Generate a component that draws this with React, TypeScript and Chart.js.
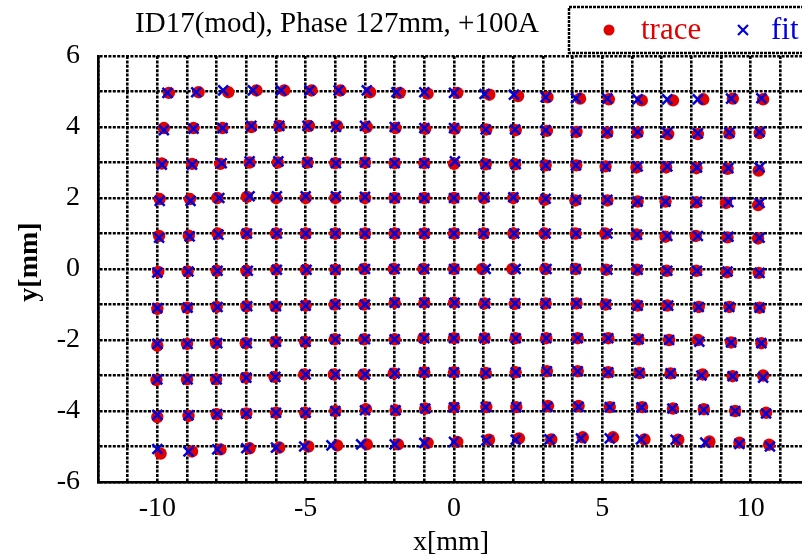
import React, { useEffect, useRef } from 'react';
import { Chart, registerables } from 'chart.js';

Chart.register(...registerables);

// Grid rows from y≈5 (top) to y≈-5 (bottom), columns from x≈-10 to x≈10
const traceX: number[][] = [
  [-9.61, -8.61, -7.61, -6.66, -5.72, -4.80, -3.83, -2.83, -1.83, -0.89, 0.11, 1.19, 2.16, 3.15, 4.25, 5.22, 6.33, 7.38, 8.40, 9.40, 10.42],
  [-9.78, -8.78, -7.80, -6.83, -5.89, -4.89, -3.94, -2.94, -1.97, -0.97, 0.03, 1.09, 2.08, 3.13, 4.13, 5.17, 6.19, 7.22, 8.22, 9.28, 10.30],
  [-9.85, -8.83, -7.88, -6.89, -5.94, -4.94, -4.00, -3.00, -2.00, -1.00, 0.00, 1.07, 2.06, 3.09, 4.12, 5.11, 6.15, 7.15, 8.17, 9.22, 10.27],
  [-9.92, -8.90, -7.98, -6.98, -6.00, -5.00, -4.00, -3.00, -2.00, -1.00, 0.00, 1.00, 2.00, 3.05, 4.09, 5.17, 6.19, 7.13, 8.17, 9.17, 10.25],
  [-9.94, -8.94, -7.97, -7.00, -6.00, -5.00, -4.00, -3.00, -2.00, -1.00, 0.00, 1.00, 2.00, 3.05, 4.10, 5.10, 6.15, 7.13, 8.15, 9.22, 10.25],
  [-9.97, -8.98, -8.00, -7.00, -6.00, -5.00, -4.00, -3.03, -2.03, -1.03, 0.00, 0.95, 1.97, 3.08, 4.10, 5.13, 6.17, 7.17, 8.17, 9.20, 10.27],
  [-10.00, -9.00, -8.00, -7.00, -6.02, -5.00, -4.02, -3.03, -2.00, -1.00, 0.00, 1.03, 2.05, 3.09, 4.13, 5.11, 6.19, 7.19, 8.25, 9.28, 10.30],
  [-10.00, -9.00, -8.02, -7.02, -6.02, -5.02, -4.02, -3.03, -2.00, -1.03, 0.00, 1.03, 2.08, 3.11, 4.17, 5.20, 6.22, 7.25, 8.22, 9.34, 10.36],
  [-10.03, -9.00, -8.02, -7.02, -6.05, -5.05, -4.05, -3.05, -2.03, -1.00, 0.00, 1.07, 2.08, 3.13, 4.17, 5.20, 6.25, 7.30, 8.38, 9.39, 10.42],
  [-10.00, -8.95, -8.00, -7.00, -6.00, -5.02, -4.00, -2.97, -1.97, -0.97, 0.00, 1.09, 2.10, 3.17, 4.20, 5.25, 6.34, 7.38, 8.42, 9.48, 10.52],
  [-9.89, -8.83, -7.87, -6.89, -5.89, -4.91, -3.94, -2.94, -1.89, -0.89, 0.11, 1.18, 2.19, 3.28, 4.34, 5.36, 6.42, 7.56, 8.61, 9.62, 10.62],
];

const traceY: number[][] = [
  [4.96, 4.98, 4.98, 5.03, 5.03, 5.03, 5.03, 4.98, 4.96, 4.94, 4.96, 4.91, 4.87, 4.84, 4.80, 4.78, 4.75, 4.75, 4.78, 4.80, 4.78],
  [3.97, 3.97, 3.97, 4.00, 4.03, 4.03, 4.03, 4.00, 3.97, 3.95, 3.95, 3.93, 3.91, 3.89, 3.86, 3.84, 3.84, 3.80, 3.80, 3.82, 3.83],
  [2.97, 2.96, 2.96, 3.00, 3.00, 3.00, 2.98, 3.00, 2.98, 2.98, 2.96, 2.95, 2.95, 2.92, 2.92, 2.89, 2.86, 2.86, 2.84, 2.82, 2.77],
  [1.97, 1.97, 2.00, 2.03, 2.00, 2.00, 2.00, 2.00, 2.00, 2.00, 2.00, 2.00, 2.00, 1.95, 1.93, 1.93, 1.90, 1.90, 1.88, 1.86, 1.80],
  [0.93, 0.94, 1.00, 1.00, 1.00, 1.00, 1.00, 1.00, 1.00, 1.00, 1.00, 1.00, 1.00, 1.00, 1.00, 1.00, 0.97, 0.91, 0.93, 0.89, 0.86],
  [-0.08, -0.07, -0.05, -0.05, -0.02, -0.02, -0.02, 0.00, 0.00, 0.00, 0.00, 0.00, 0.00, 0.00, 0.00, -0.02, -0.02, -0.05, -0.05, -0.09, -0.11],
  [-1.12, -1.09, -1.07, -1.05, -1.05, -1.03, -1.00, -1.00, -0.95, -0.95, -0.95, -0.97, -0.98, -0.97, -0.97, -1.00, -1.03, -1.03, -1.07, -1.07, -1.09],
  [-2.16, -2.11, -2.09, -2.09, -2.05, -2.05, -1.98, -1.98, -1.98, -1.95, -1.95, -1.95, -1.95, -1.95, -1.95, -1.95, -1.98, -2.00, -2.00, -2.07, -2.09],
  [-3.13, -3.11, -3.11, -3.06, -3.04, -2.97, -2.97, -2.97, -2.94, -2.91, -2.91, -2.93, -2.91, -2.88, -2.88, -2.91, -2.93, -2.94, -2.97, -3.02, -3.00],
  [-4.17, -4.14, -4.09, -4.07, -4.05, -4.05, -4.00, -3.95, -3.98, -3.93, -3.90, -3.89, -3.89, -3.86, -3.86, -3.89, -3.89, -3.93, -3.95, -4.00, -4.05],
  [-5.20, -5.14, -5.08, -5.05, -5.03, -5.00, -4.97, -4.94, -4.94, -4.90, -4.87, -4.81, -4.77, -4.80, -4.74, -4.74, -4.80, -4.81, -4.86, -4.89, -4.95],
];

const fitX: number[][] = [
  [-9.66, -8.69, -7.78, -6.78, -5.83, -4.87, -3.89, -2.94, -1.94, -1.00, 0.00, 1.03, 2.02, 3.09, 4.11, 5.17, 6.19, 7.19, 8.22, 9.34, 10.36],
  [-9.78, -8.78, -7.80, -6.83, -5.89, -4.94, -3.98, -3.00, -2.00, -1.00, 0.00, 1.07, 2.06, 3.09, 4.11, 5.17, 6.19, 7.19, 8.22, 9.28, 10.30],
  [-9.85, -8.83, -7.83, -6.89, -5.92, -4.94, -3.98, -3.00, -2.00, -1.00, 0.03, 1.07, 2.08, 3.09, 4.11, 5.11, 6.19, 7.19, 8.19, 9.25, 10.30],
  [-9.92, -8.88, -7.91, -6.89, -5.97, -5.00, -3.98, -3.00, -2.00, -1.00, 0.00, 1.03, 2.00, 3.09, 4.11, 5.17, 6.19, 7.13, 8.19, 9.25, 10.30],
  [-9.94, -8.91, -7.94, -6.98, -5.97, -5.00, -4.00, -3.00, -2.00, -1.00, 0.00, 1.00, 2.03, 3.09, 4.11, 5.17, 6.17, 7.19, 8.22, 9.25, 10.30],
  [-10.00, -8.95, -7.97, -6.95, -5.97, -4.97, -4.00, -3.00, -2.00, -1.00, 0.00, 1.07, 2.08, 3.12, 4.10, 5.17, 6.19, 7.19, 8.19, 9.22, 10.30],
  [-10.00, -8.98, -7.97, -6.97, -6.00, -5.00, -4.00, -3.00, -2.00, -1.00, 0.02, 1.05, 2.06, 3.09, 4.13, 5.13, 6.19, 7.22, 8.25, 9.28, 10.30],
  [-10.00, -8.98, -7.98, -6.98, -6.00, -5.00, -4.00, -3.00, -2.00, -1.00, 0.00, 1.03, 2.08, 3.11, 4.17, 5.20, 6.22, 7.25, 8.27, 9.34, 10.36],
  [-10.00, -8.98, -8.00, -7.00, -6.02, -5.00, -4.00, -3.00, -2.00, -1.00, 0.00, 1.07, 2.08, 3.13, 4.17, 5.20, 6.25, 7.30, 8.34, 9.39, 10.42],
  [-10.00, -8.95, -7.98, -7.00, -6.00, -5.00, -4.00, -3.00, -1.97, -0.97, 0.00, 1.07, 2.10, 3.15, 4.20, 5.25, 6.32, 7.36, 8.42, 9.48, 10.52],
  [-10.00, -8.95, -7.98, -7.00, -6.00, -5.05, -4.13, -3.13, -2.00, -1.00, 0.00, 1.09, 2.08, 3.22, 4.28, 5.25, 6.30, 7.47, 8.47, 9.62, 10.65],
];

const fitY: number[][] = [
  [4.96, 4.98, 5.03, 5.03, 5.03, 5.03, 5.03, 5.03, 4.98, 4.98, 4.96, 4.93, 4.91, 4.84, 4.81, 4.80, 4.78, 4.78, 4.78, 4.80, 4.81],
  [3.91, 3.95, 3.97, 4.03, 4.03, 4.03, 4.00, 4.03, 4.00, 3.97, 3.97, 3.93, 3.93, 3.91, 3.88, 3.86, 3.86, 3.84, 3.82, 3.84, 3.86],
  [2.94, 2.94, 2.98, 3.03, 3.03, 3.00, 2.98, 3.00, 2.98, 2.98, 3.03, 2.95, 2.95, 2.92, 2.92, 2.89, 2.89, 2.89, 2.86, 2.84, 2.86],
  [1.92, 1.92, 2.00, 2.05, 2.05, 2.05, 2.05, 2.03, 2.00, 2.00, 2.00, 2.02, 2.02, 1.98, 1.95, 1.95, 1.90, 1.90, 1.90, 1.88, 1.86],
  [0.88, 0.92, 0.97, 1.00, 1.00, 1.00, 1.00, 1.00, 1.00, 1.00, 1.00, 1.00, 1.00, 1.00, 1.00, 1.00, 0.97, 0.93, 0.93, 0.91, 0.88],
  [-0.10, -0.07, -0.05, -0.05, -0.02, -0.02, -0.02, 0.00, 0.00, 0.00, 0.00, 0.00, 0.00, 0.00, 0.00, -0.02, -0.02, -0.05, -0.05, -0.07, -0.11],
  [-1.10, -1.09, -1.07, -1.05, -1.05, -1.03, -1.00, -1.00, -0.95, -0.95, -0.95, -0.97, -0.97, -0.97, -0.97, -1.00, -1.03, -1.03, -1.07, -1.07, -1.09],
  [-2.11, -2.11, -2.09, -2.09, -2.05, -2.05, -1.98, -1.98, -1.98, -1.95, -1.95, -1.95, -1.95, -1.95, -1.95, -1.95, -1.98, -2.00, -2.05, -2.07, -2.09],
  [-3.11, -3.11, -3.11, -3.06, -3.04, -2.97, -2.97, -2.97, -2.94, -2.91, -2.91, -2.93, -2.91, -2.88, -2.88, -2.91, -2.93, -2.94, -3.00, -3.02, -3.06],
  [-4.11, -4.12, -4.09, -4.07, -4.05, -4.05, -4.00, -3.98, -3.98, -3.93, -3.90, -3.89, -3.89, -3.88, -3.88, -3.89, -3.90, -3.93, -3.97, -4.00, -4.07],
  [-5.07, -5.14, -5.08, -5.05, -5.03, -5.00, -4.97, -4.94, -4.94, -4.90, -4.87, -4.83, -4.81, -4.80, -4.77, -4.77, -4.80, -4.81, -4.89, -4.93, -5.00],
];

const xRange = [-12, 12];
const yRange = [-6, 6];
const xLabelEvery = 5;
const yLabelEvery = 2;
const titleText = 'ID17(mod), Phase 127mm, +100A';
const xTitle = 'x[mm]';
const yTitle = 'y[mm]';
const seriesNames = ['trace', 'fit'];

const RED = '#e10000';
const BLUE = '#0000dd';
const SERIF = '"Liberation Serif", "Times New Roman", serif';

function toPoints(xs: number[][], ys: number[][]) {
  const pts: { x: number; y: number }[] = [];
  xs.forEach((row, i) => row.forEach((x, j) => pts.push({ x, y: ys[i][j] })));
  return pts;
}

const decorPlugin = {
  id: 'decor',
  afterDraw(chart: any) {
    const ctx = chart.ctx as CanvasRenderingContext2D;
    const area = chart.chartArea;
    ctx.save();
    // title
    ctx.fillStyle = '#000';
    ctx.font = `29px ${SERIF}`;
    ctx.textAlign = 'center';
    ctx.textBaseline = 'middle';
    ctx.fillText(titleText, 337, 24);
    // x title
    ctx.font = `28px ${SERIF}`;
    ctx.fillText(xTitle, (area.left + area.right) / 2 - 3, 543);
    // y title
    ctx.save();
    ctx.translate(30, 262);
    ctx.rotate(-Math.PI / 2);
    ctx.font = `bold 28px ${SERIF}`;
    ctx.fillText(yTitle, 0, 0);
    ctx.restore();
    // legend box
    ctx.fillStyle = '#fff';
    ctx.fillRect(569, 7, 300, 46);
    ctx.setLineDash([3, 1]);
    ctx.lineWidth = 2.5;
    ctx.strokeStyle = '#000';
    ctx.strokeRect(569, 7, 300, 46);
    ctx.setLineDash([]);
    // trace marker
    ctx.fillStyle = RED;
    ctx.beginPath();
    ctx.arc(609, 30, 5.5, 0, Math.PI * 2);
    ctx.fill();
    ctx.textAlign = 'left';
    ctx.font = `31px ${SERIF}`;
    ctx.fillText(seriesNames[0], 641, 31);
    // fit marker
    ctx.strokeStyle = BLUE;
    ctx.lineWidth = 2.2;
    ctx.beginPath();
    ctx.moveTo(738, 25); ctx.lineTo(748, 35);
    ctx.moveTo(748, 25); ctx.lineTo(738, 35);
    ctx.stroke();
    ctx.fillStyle = BLUE;
    ctx.fillText(seriesNames[1], 771, 31);
    ctx.restore();
  },
};

export default function App() {
  const ref = useRef<HTMLCanvasElement | null>(null);

  useEffect(() => {
    if (!ref.current) return;
    const chart = new Chart(ref.current, {
      type: 'scatter',
      data: {
        datasets: [
          {
            label: seriesNames[0],
            data: toPoints(traceX, traceY),
            pointStyle: 'circle',
            pointRadius: 6.2,
            backgroundColor: RED,
            borderColor: RED,
            borderWidth: 0,
            order: 2,
          },
          {
            label: seriesNames[1],
            data: toPoints(fitX, fitY),
            pointStyle: 'crossRot',
            pointRadius: 7,
            borderColor: BLUE,
            backgroundColor: BLUE,
            borderWidth: 2.5,
            order: 1,
          },
        ],
      },
      options: {
        animation: false,
        responsive: false,
        devicePixelRatio: 1,
        events: [],
        layout: { padding: { top: 56, right: 20, bottom: 0, left: 0 } },
        plugins: { legend: { display: false }, title: { display: false }, tooltip: { enabled: false } },
        scales: {
          x: {
            type: 'linear',
            min: xRange[0],
            max: xRange[1],
            afterFit: (s: any) => { s.height = 75; },
            ticks: {
              stepSize: 1,
              autoSkip: false,
              maxRotation: 0,
              padding: 10,
              color: '#000',
              font: { family: SERIF, size: 28 },
              callback: (v: any) => (Number(v) % xLabelEvery === 0 ? String(v) : ''),
            },
            grid: { color: '#000', lineWidth: 2.6, drawTicks: false },
            border: { display: true, color: '#000', width: 2.6, dash: [3, 1.4] },
          },
          y: {
            type: 'linear',
            min: yRange[0],
            max: yRange[1],
            afterFit: (s: any) => { s.width = 98; },
            ticks: {
              stepSize: 1,
              autoSkip: false,
              padding: 18,
              color: '#000',
              font: { family: SERIF, size: 28 },
              callback: (v: any) => (Number(v) % yLabelEvery === 0 ? String(v) : ''),
            },
            grid: { color: '#000', lineWidth: 2.6, drawTicks: false },
            border: { display: true, color: '#000', width: 2.6, dash: [3, 1.4] },
          },
        },
      },
      plugins: [decorPlugin],
    });
    return () => chart.destroy();
  }, []);

  return (
    <div style={{ position: 'fixed', left: 0, top: 0, width: 802, height: 557, overflow: 'hidden', background: '#fff' }}>
      <canvas ref={ref} width={830} height={557} style={{ display: 'block' }} />
    </div>
  );
}
